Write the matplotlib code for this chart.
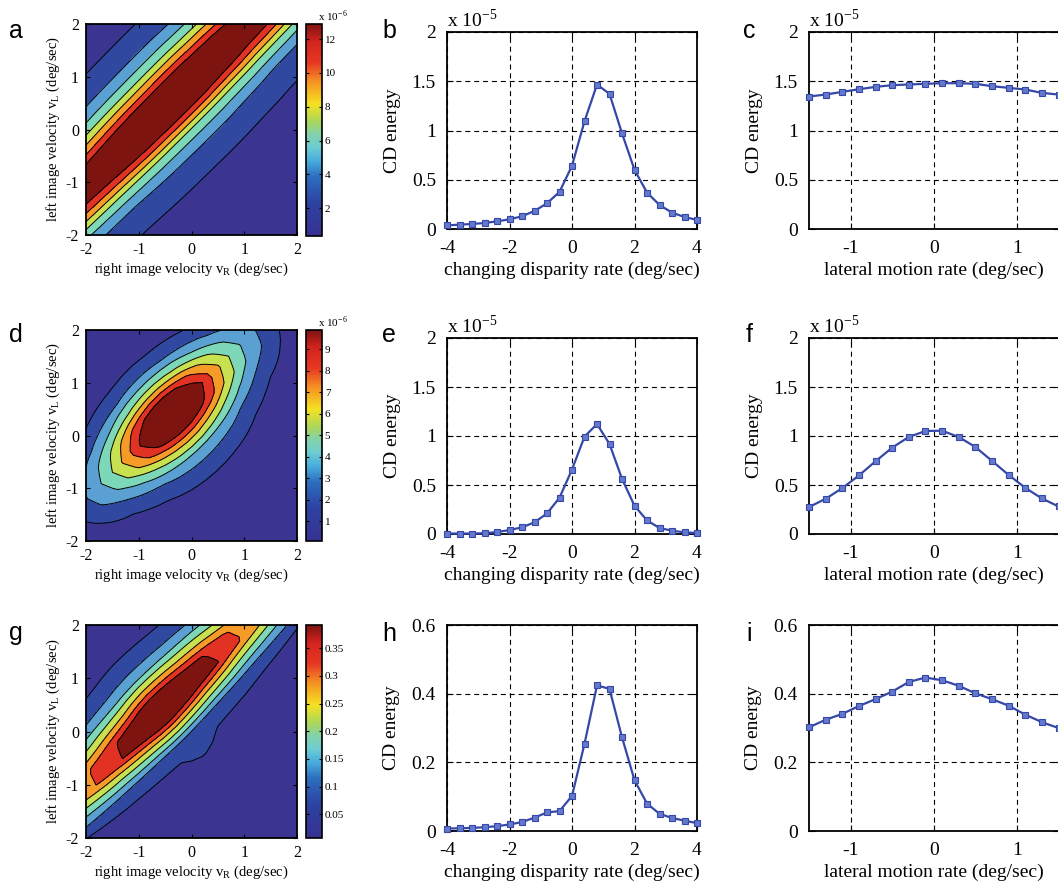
import numpy as np
import matplotlib
matplotlib.use('Agg')
import matplotlib.pyplot as plt
from matplotlib.colors import LinearSegmentedColormap, Normalize
from matplotlib.cm import ScalarMappable
from matplotlib.ticker import FuncFormatter

# ---------------- data ----------------
disp_x = [-4.0, -3.6, -3.2, -2.8, -2.4, -2.0, -1.6, -1.2, -0.8, -0.4, 0.0,
          0.4, 0.8, 1.2, 1.6, 2.0, 2.4, 2.8, 3.2, 3.6, 4.0]
lat_x = [-1.5, -1.3, -1.1, -0.9, -0.7, -0.5, -0.3, -0.1, 0.1, 0.3, 0.5,
         0.7, 0.9, 1.1, 1.3, 1.5]

# CD energy (x 1e-5) vs changing disparity rate
b_vals = [0.037, 0.044, 0.051, 0.061, 0.078, 0.098, 0.129, 0.183, 0.261, 0.377,
          0.642, 1.093, 1.467, 1.372, 0.971, 0.601, 0.370, 0.244, 0.166, 0.122, 0.092]
e_vals = [0.005, 0.005, 0.005, 0.008, 0.020, 0.040, 0.068, 0.119, 0.210, 0.370,
          0.658, 0.993, 1.122, 0.919, 0.563, 0.288, 0.139, 0.061, 0.034, 0.017, 0.010]
h_vals = [0.007, 0.008, 0.009, 0.011, 0.014, 0.019, 0.026, 0.039, 0.054, 0.058,
          0.102, 0.254, 0.424, 0.414, 0.273, 0.148, 0.080, 0.050, 0.038, 0.030, 0.023]

# CD energy vs lateral motion rate
c_vals = [1.345, 1.365, 1.392, 1.419, 1.443, 1.460, 1.467, 1.474, 1.480, 1.480,
          1.474, 1.450, 1.433, 1.416, 1.382, 1.365]
f_vals = [0.275, 0.359, 0.468, 0.597, 0.742, 0.881, 0.990, 1.051, 1.054, 0.990,
          0.888, 0.746, 0.603, 0.471, 0.363, 0.281]
i_vals = [0.302, 0.324, 0.341, 0.364, 0.384, 0.406, 0.434, 0.447, 0.439, 0.423,
          0.401, 0.384, 0.365, 0.339, 0.317, 0.300]

# contour levels / colour ranges of the three maps
a_range = [0.35, 12.9]     # x 1e-6
a_levels = [1.92, 3.49, 5.06, 6.63, 8.19, 9.76, 11.33]
d_range = [0.07, 9.9]      # x 1e-6
d_levels = [1.30, 2.53, 3.76, 4.99, 6.21, 7.44, 8.67]
g_range = [0.007, 0.392]
g_levels = [0.055, 0.103, 0.151, 0.199, 0.248, 0.296, 0.344]
a_cticks = [2, 4, 6, 8, 10, 12]
d_cticks = [1, 2, 3, 4, 5, 6, 7, 8, 9]
g_cticks = [0.05, 0.1, 0.15, 0.2, 0.25, 0.3, 0.35]

# ---------------- style ----------------
plt.rcParams['font.family'] = ['Liberation Serif', 'DejaVu Serif']
plt.rcParams['mathtext.fontset'] = 'stix'
plt.rcParams['axes.unicode_minus'] = False

band_colors = ['#3b3491', '#3048a0', '#5aa0d2', '#7dd7b9', '#c8e150',
               '#f59b28', '#e13223', '#7d140f']
cb_anchor = [(0.0, (55, 50, 145)), (0.15, (45, 65, 160)), (0.28, (45, 110, 190)),
             (0.35, (70, 170, 220)), (0.42, (110, 205, 210)), (0.48, (130, 210, 170)),
             (0.54, (170, 215, 90)), (0.625, (245, 225, 35)), (0.73, (245, 145, 35)),
             (0.82, (230, 55, 35)), (0.92, (210, 35, 30)), (1.0, (125, 20, 20))]
cbar_cmap = LinearSegmentedColormap.from_list(
    'mjet', [(p, tuple(v / 255 for v in c)) for p, c in cb_anchor])

LINE_C = '#3548a8'
MFC = '#6479cc'

W, H = 1058, 886
fig = plt.figure(figsize=(W / 100, H / 100), dpi=100)


def box(x0, y0, x1, y1):
    return [x0 / W, 1 - y1 / H, (x1 - x0) / W, (y1 - y0) / H]


def fmt(v, pos):
    return ('%g' % v)


def interp_ext(x, xp, fp):
    xp = np.asarray(xp); fp = np.asarray(fp)
    y = np.interp(x, xp, fp)
    sl = (fp[1] - fp[0]) / (xp[1] - xp[0])
    sr = (fp[-1] - fp[-2]) / (xp[-1] - xp[-2])
    y = np.where(x < xp[0], fp[0] + sl * (x - xp[0]), y)
    y = np.where(x > xp[-1], fp[-1] + sr * (x - xp[-1]), y)
    return np.clip(y, 0.0005, None)


def energy_map(dvals, lvals, scale):
    v = np.linspace(-2, 2, 41)
    VR, VL = np.meshgrid(v, v)
    d = VL - VR
    m = (VL + VR) / 2
    Z = interp_ext(d, disp_x, dvals) * interp_ext(m, lat_x, lvals) / max(lvals)
    return VR, VL, Z * scale


def heat_panel(rect, crect, dvals, lvals, scale, levels, rng, cticks, mult, letter, lpos):
    ax = fig.add_axes(box(*rect))
    VR, VL, Z = energy_map(dvals, lvals, scale)
    lo = min(Z.min(), rng[0]) - 1e-9
    hi = max(Z.max(), rng[1]) + 1e-9
    ax.contourf(VR, VL, Z, levels=[lo] + levels + [hi], colors=band_colors)
    ax.contour(VR, VL, Z, levels=levels, colors='k', linewidths=0.7)
    ax.set_xlim(-2, 2); ax.set_ylim(-2, 2)
    ax.set_xticks([-2, -1, 0, 1, 2]); ax.set_yticks([-2, -1, 0, 1, 2])
    ax.tick_params(direction='in', top=True, right=True, length=3, width=0.8,
                   labelsize=11.5, pad=5)
    for s in ax.spines.values():
        s.set_linewidth(1.3)
    ax.set_xlabel('right image velocity v$\\mathregular{_R}$ (deg/sec)', fontsize=10.5, labelpad=2)
    ax.set_ylabel('left image velocity v$\\mathregular{_L}$ (deg/sec)', fontsize=10.5, labelpad=3)
    cax = fig.add_axes(box(*crect))
    sm = ScalarMappable(norm=Normalize(rng[0], rng[1]), cmap=cbar_cmap)
    cb = fig.colorbar(sm, cax=cax, ticks=cticks)
    cb.outline.set_linewidth(1.2)
    cax.tick_params(direction='in', left=True, right=True, length=2.5, width=0.8,
                    labelsize=8, pad=2)
    cax.yaxis.set_major_formatter(FuncFormatter(fmt))
    if mult:
        cax.text(0.75, 1.0, mult, transform=cax.transAxes, fontsize=8,
                 ha='left', va='bottom')
    fig.text(lpos[0] / W, 1 - lpos[1] / H, letter, fontsize=18,
             family='Liberation Sans', ha='left', va='baseline')


def line_panel(rect, x, y, xlim, xticks, ylim, yticks, xlabel, mult, letter, lpos):
    ax = fig.add_axes(box(*rect))
    ax.plot(x, y, '-s', color=LINE_C, lw=1.6, ms=3.8, mfc=MFC, mec=LINE_C, mew=0.8,
            clip_on=False, zorder=3)
    ax.set_xlim(*xlim); ax.set_ylim(*ylim)
    ax.set_xticks(xticks); ax.set_yticks(yticks)
    ax.xaxis.set_major_formatter(FuncFormatter(fmt))
    ax.yaxis.set_major_formatter(FuncFormatter(fmt))
    ax.grid(True, color='k', linestyle=(0, (4.5, 3.5)), linewidth=0.8)
    ax.set_axisbelow(True)
    ax.tick_params(direction='in', top=True, right=True, length=4, width=0.8,
                   labelsize=14, pad=8)
    for s in ax.spines.values():
        s.set_linewidth(1.3)
    ax.set_xlabel(xlabel, fontsize=14, labelpad=3)
    ax.set_ylabel('CD energy', fontsize=14, labelpad=8)
    if mult:
        ax.text(0.0, 1.005, mult, transform=ax.transAxes, fontsize=14,
                ha='left', va='bottom')
    fig.text(lpos[0] / W, 1 - lpos[1] / H, letter, fontsize=18,
             family='Liberation Sans', ha='left', va='baseline')


xl_d = 'changing disparity rate (deg/sec)'
xl_l = 'lateral motion rate (deg/sec)'
m5 = 'x 10$^{\\mathregular{-5}}$'
m6 = 'x 10$^{\\mathregular{-6}}$'

heat_panel((86, 24, 297, 235), (306, 24, 322, 236), b_vals, c_vals, 10.0,
           a_levels, a_range, a_cticks, m6, 'a', (9, 38))
heat_panel((86, 330, 297, 541), (306, 330, 322, 541), e_vals, f_vals, 10.0,
           d_levels, d_range, d_cticks, m6, 'd', (9, 342))
heat_panel((86, 625, 297, 838), (306, 625, 322, 838), h_vals, i_vals, 1.0,
           g_levels, g_range, g_cticks, None, 'g', (9, 640))

line_panel((447, 32, 697, 229), disp_x, b_vals, (-4, 4), [-4, -2, 0, 2, 4],
           (0, 2), [0, 0.5, 1, 1.5, 2], xl_d, m5, 'b', (382, 38))
line_panel((809, 32, 1058.5, 229), lat_x, c_vals, (-1.5, 1.5), [-1, 0, 1],
           (0, 2), [0, 0.5, 1, 1.5, 2], xl_l, m5, 'c', (743, 38))
line_panel((447, 338, 697, 534), disp_x, e_vals, (-4, 4), [-4, -2, 0, 2, 4],
           (0, 2), [0, 0.5, 1, 1.5, 2], xl_d, m5, 'e', (382, 342))
line_panel((809, 338, 1058.5, 534), lat_x, f_vals, (-1.5, 1.5), [-1, 0, 1],
           (0, 2), [0, 0.5, 1, 1.5, 2], xl_l, m5, 'f', (746, 342))
line_panel((447, 625, 697, 831), disp_x, h_vals, (-4, 4), [-4, -2, 0, 2, 4],
           (0, 0.6), [0, 0.2, 0.4, 0.6], xl_d, None, 'h', (382, 641))
line_panel((809, 625, 1058.5, 831), lat_x, i_vals, (-1.5, 1.5), [-1, 0, 1],
           (0, 0.6), [0, 0.2, 0.4, 0.6], xl_l, None, 'i', (746, 641))

fig.savefig('out.png', dpi=100)
